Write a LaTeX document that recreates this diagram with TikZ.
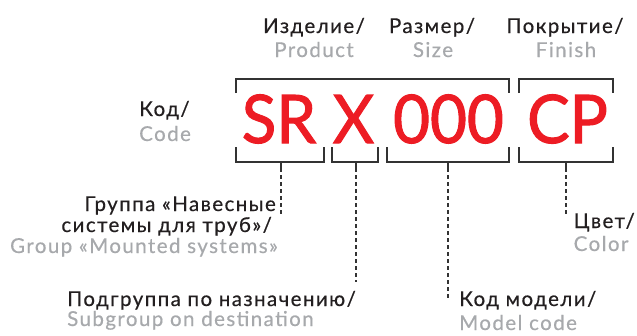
\documentclass[tikz,border=0pt]{standalone}
\usepackage{fontspec}
\usetikzlibrary{calc}
\setmainfont{Lato}
\newfontfamily\lblfont[LetterSpace=7,FakeBold=0.5]{Lato}
\newfontfamily\codefont[FakeBold=1.6]{Lato}
\newcommand{\narrowcode}[1]{\scalebox{0.95}[1]{#1}}
\definecolor{codered}{HTML}{ED1C24}
\definecolor{txtgray}{HTML}{A7A9AC}
\definecolor{txtblack}{HTML}{231F20}
\definecolor{linegray}{HTML}{333333}
\begin{document}
\begin{tikzpicture}[x=1pt,y=-1pt,
  lbl/.style={inner sep=0pt, font=\lblfont\fontsize{20.5}{20.5}\selectfont, text=txtblack},
  sub/.style={lbl, text=txtgray},
  codetxt/.style={inner sep=0pt, font=\codefont\fontsize{67}{67}\selectfont, text=codered, anchor=base},
  brk/.style={line width=1.5pt, draw=linegray, line cap=butt},
  lead/.style={line width=1.2pt, draw=linegray, dash pattern=on 4pt off 3pt}]
\useasboundingbox (0,0) rectangle (637,335);

% code letters
\node[codetxt] (sr) at (279,143) {\narrowcode{SR}};
\node[codetxt] (x) at (353.5,143) {\narrowcode{X}};
\node[codetxt] (num) at (448.5,143) {\narrowcode{000}};
\node[codetxt] (cp) at (567.5,143) {\narrowcode{CP}};

% top brackets
\draw[brk] (236,93) -- (236,79) -- (509,79) -- (509,93);
\draw[brk] (519,93) -- (519,79) -- (613,79) -- (613,93);
% bottom brackets
\draw[brk] (236,147) -- (236,162) -- (324,162) -- (324,147);
\draw[brk] (332,147) -- (332,162) -- (378,162) -- (378,147);
\draw[brk] (387,147) -- (387,162) -- (509,162) -- (509,147);
\draw[brk] (519,147) -- (519,162) -- (613,162) -- (613,147);

% stems
\coordinate (s1) at (281,162);
\coordinate (s2) at (356,162);
\coordinate (s3) at (448,162);
\coordinate (s4) at (566,162);
\coordinate (d1) at (281,168);
\coordinate (d2) at (356,168);
\coordinate (d3) at (448,168);
\coordinate (d4) at (566,168);
\coordinate (e1) at (281,215);
\coordinate (e2) at (356,282);
\coordinate (e3) at (448,298);
\coordinate (e4) at (566,215);
\foreach \i in {1,2,3,4}{
  \draw[brk] (s\i) -- (d\i);
  \draw[lead] (d\i) -- (e\i);
}

% top labels
\node[lbl, anchor=base] (prod) at (314,33) {Изделие/};
\node[sub, anchor=base] (prode) at (314,57) {Product};
\node[lbl, anchor=base] (size) at (432,33) {Размер/};
\node[sub, anchor=base] (sizee) at (433,57) {Size};
\node[lbl, anchor=base] (fin) at (565,33) {Покрытие/};
\node[sub, anchor=base] (fine) at (566,57) {Finish};

% code label
\node[lbl, anchor=base west] (kod) at (139,116) {Код/};
\node[sub, anchor=base west] (kode) at (139,141) {Code};

% group
\node[lbl, anchor=base east] (g1) at (276,211) {Группа «Навесные};
\node[lbl, anchor=base east] (g2) at (272,232) {системы для труб»/};
\node[sub, anchor=base east] (g3) at (278,253) {Group «Mounted systems»};

% subgroup
\node[lbl, anchor=base west] (sg1) at (67,306) {Подгруппа по назначению/};
\node[sub, anchor=base west] (sg2) at (67,326) {Subgroup on destination};

% model
\node[lbl, anchor=base west] (m1) at (459,306) {Код модели/};
\node[sub, anchor=base west] (m2) at (459,330) {Model code};

% color
\node[lbl, anchor=base east] (c1) at (635,228) {Цвет/};
\node[sub, anchor=base west] (c2) at ($(c1.base west)+(0,23)$) {Color};
\end{tikzpicture}
\end{document}
